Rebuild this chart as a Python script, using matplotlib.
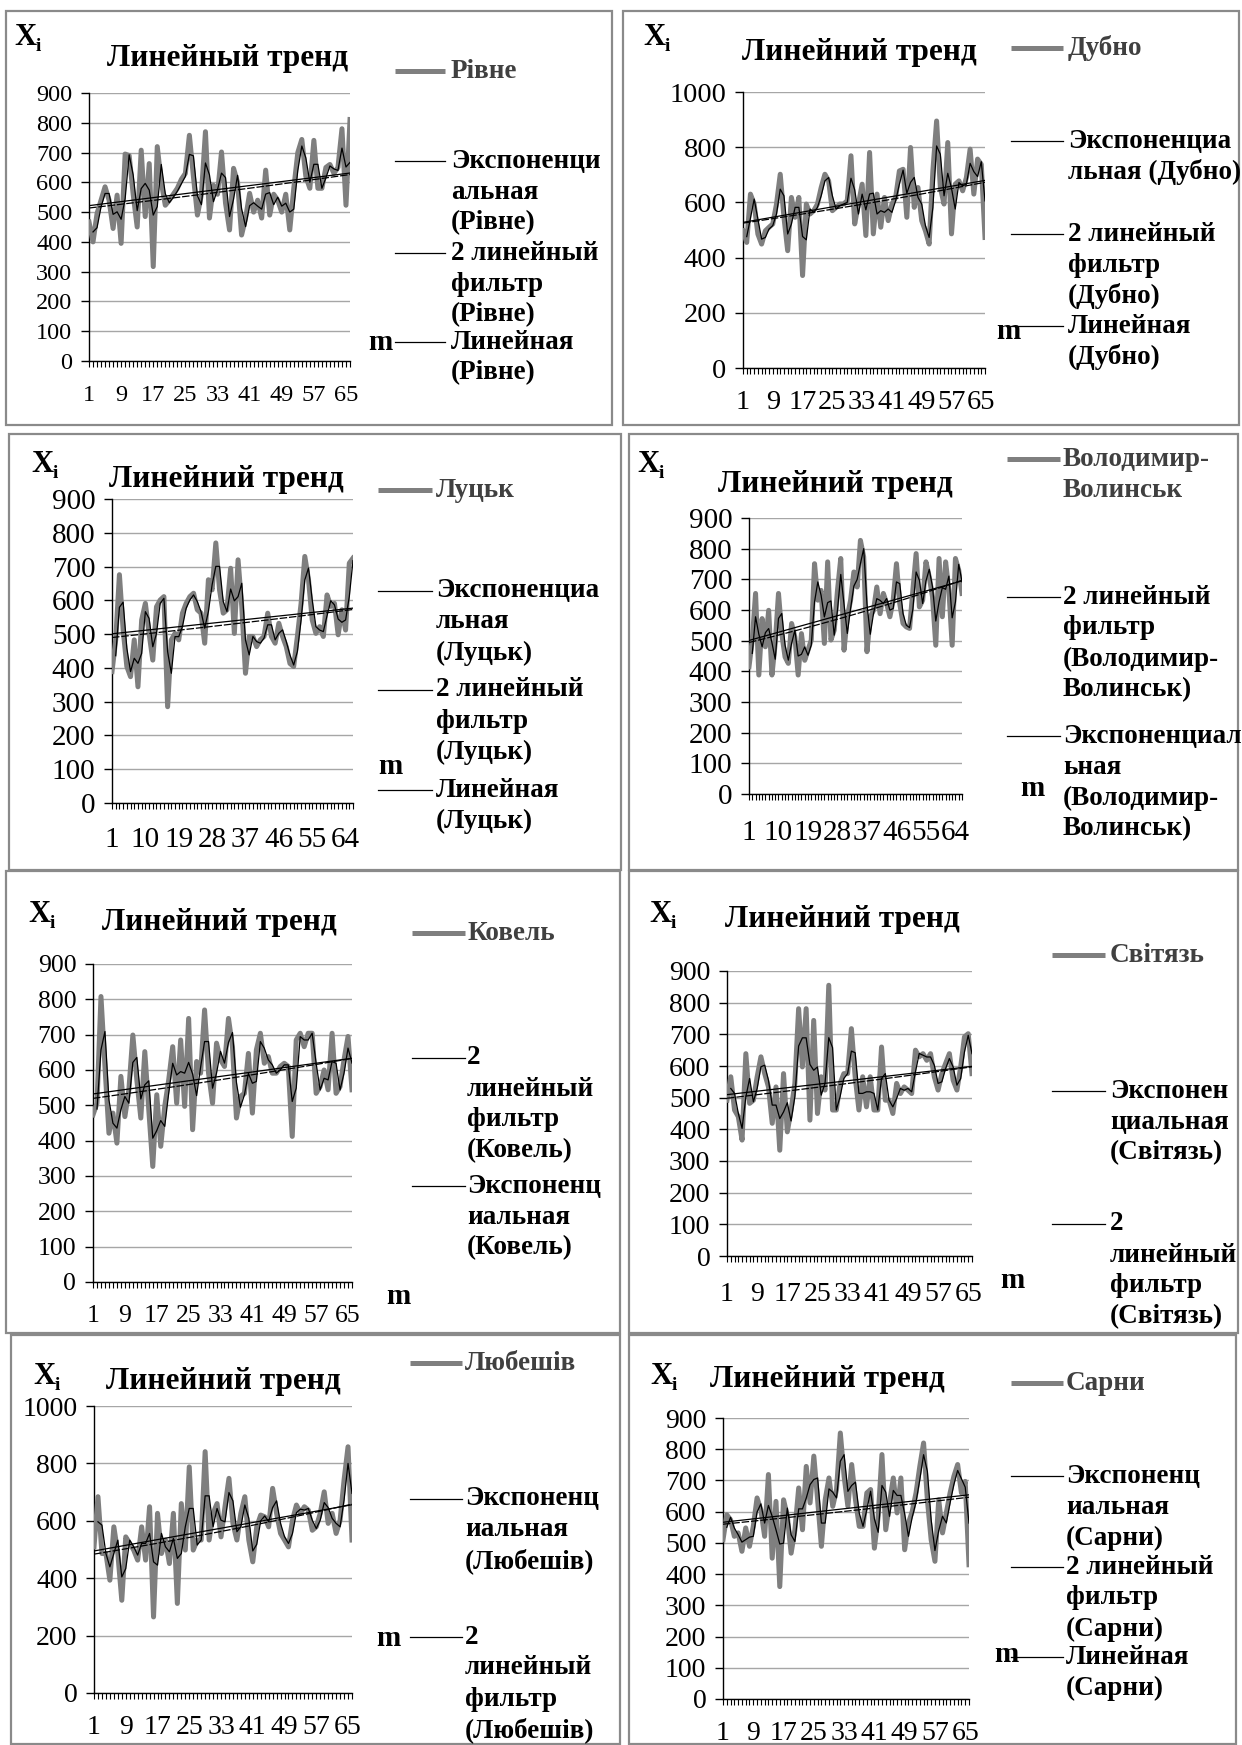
import numpy as np
import pandas as pd
import matplotlib
matplotlib.use("Agg")
import matplotlib.pyplot as plt
from matplotlib.patches import Rectangle
from matplotlib.ticker import FixedLocator, NullFormatter

W, H = 1242, 1745
SERIF = ['Liberation Serif', 'DejaVu Serif']
plt.rcParams['font.family'] = SERIF

# ---------------- data ----------------
RIVNE = [467, 400, 495, 540, 585, 540, 445, 557, 395, 695,
         690, 560, 450, 708, 485, 663, 317, 720, 600, 523,
         540, 560, 580, 610, 630, 758, 620, 490, 560, 770,
         480, 590, 560, 702, 530, 440, 647, 600, 423, 480,
         563, 500, 540, 480, 641, 490, 560, 540, 500, 560,
         440, 580, 700, 744, 620, 580, 741, 580, 580, 650,
         660, 630, 650, 780, 523, 811]
DUBNO = [497, 455, 630, 594, 485, 449, 497, 510, 522, 594,
         702, 546, 425, 618, 546, 618, 335, 594, 558, 570,
         594, 654, 702, 678, 570, 582, 594, 594, 606, 769,
         522, 594, 666, 480, 781, 486, 630, 510, 618, 534,
         594, 618, 714, 720, 546, 799, 582, 654, 534, 497,
         449, 714, 895, 654, 594, 817, 486, 666, 678, 642,
         690, 793, 630, 757, 738, 473]
LUTSK = [389, 483, 676, 513, 404, 374, 483, 344, 542, 591,
         502, 423, 581, 601, 611, 285, 483, 502, 483, 562,
         591, 611, 621, 572, 562, 473, 661, 631, 770, 631,
         562, 572, 695, 502, 720, 581, 384, 493, 493, 463,
         483, 493, 562, 493, 473, 532, 493, 463, 413, 404,
         493, 591, 730, 661, 542, 502, 522, 493, 616, 582,
         591, 498, 572, 512, 710, 725]
VOLODYMYR = [415, 502, 654, 388, 572, 480, 599, 388, 491, 654,
             523, 447, 426, 556, 512, 388, 523, 436, 469, 502,
             751, 632, 664, 491, 757, 502, 534, 664, 768, 469,
             578, 632, 724, 675, 827, 773, 464, 578, 599, 675,
             588, 654, 621, 578, 632, 751, 621, 556, 545, 540,
             664, 784, 610, 632, 757, 708, 643, 485, 768, 578,
             757, 664, 485, 768, 730, 654]
KOVEL = [473, 506, 808, 610, 421, 478, 393, 582, 468, 544,
         699, 572, 464, 652, 487, 327, 530, 384, 497, 572,
         666, 506, 685, 497, 746, 431, 624, 591, 770, 591,
         506, 676, 629, 610, 746, 666, 464, 525, 534, 647,
         478, 657, 704, 619, 638, 591, 591, 610, 619, 610,
         412, 685, 704, 666, 704, 704, 534, 553, 600, 544,
         704, 534, 553, 629, 695, 544]
SVITYAZ = [492, 566, 461, 440, 366, 639, 482, 492, 566, 629,
           576, 534, 419, 534, 334, 576, 392, 461, 545, 781,
           597, 781, 429, 744, 450, 566, 524, 855, 461, 461,
           545, 576, 576, 718, 566, 461, 566, 471, 566, 461,
           461, 660, 492, 492, 450, 545, 513, 534, 524, 513,
           650, 629, 639, 618, 639, 566, 524, 576, 608, 639,
           555, 524, 597, 692, 702, 576]
LYUBESHIV = [509, 684, 486, 486, 393, 579, 486, 323, 544, 521,
             498, 463, 579, 463, 649, 265, 626, 486, 533, 451,
             626, 312, 660, 498, 788, 498, 533, 533, 841, 533,
             626, 660, 544, 649, 748, 591, 533, 626, 684, 533,
             457, 579, 620, 614, 579, 713, 626, 556, 533, 509,
             602, 655, 626, 649, 637, 567, 579, 626, 701, 591,
             626, 556, 602, 742, 858, 533]
SARNY = [510, 590, 574, 521, 532, 473, 548, 489, 553, 644,
         606, 521, 719, 451, 633, 360, 638, 585, 467, 542,
         676, 542, 745, 628, 778, 638, 489, 638, 708, 617,
         671, 852, 713, 617, 751, 638, 553, 553, 660, 671,
         483, 585, 783, 542, 628, 708, 596, 708, 478, 564,
         601, 660, 745, 820, 638, 510, 441, 638, 532, 596,
         660, 713, 751, 660, 697, 430]

STATIONS = ["Рівне", "Дубно", "Луцьк", "Володимир-Волинськ",
            "Ковель", "Світязь", "Любешів", "Сарни"]
TITLES = ["Линейный тренд"] + ["Линейний тренд"] * 7
Y_MAX = [900, 1000, 900, 900, 900, 900, 1000, 900]
Y_STEP = [100, 200, 100, 100, 100, 100, 200, 100]
X_LABEL_STEP = [8, 8, 9, 9, 8, 8, 8, 8]
SERIES = [RIVNE, DUBNO, LUTSK, VOLODYMYR, KOVEL, SVITYAZ, LYUBESHIV, SARNY]

# ---------------- layout (pixels / styles) ----------------
AX_BOX = [(89, 93, 350, 361), (743, 92, 985, 368),
          (112, 499, 353, 803), (749, 518, 962, 794),
          (93, 964, 352, 1282), (727, 971, 972, 1256),
          (94, 1406, 352, 1693), (723, 1418, 969, 1699)]
TICK_FS = [17.5, 20.5, 21, 21, 18.5, 20, 20, 20]
XPAD = [13, 11, 13, 14, 12, 14, 11, 11]
BORDER = [(6, 11, 612, 425), (623, 11, 1239, 425),
          (9, 434, 621, 870), (629, 434, 1238, 870),
          (6, 871, 620, 1333), (629, 871, 1238, 1333),
          (11, 1335, 620, 1744), (629, 1335, 1236, 1744)]
TITLE_POS = [(228, 58), (859, 52), (226, 479), (835, 484),
             (219, 922), (842, 919), (223, 1381), (827, 1380)]
XI_POS = [(14, 37), (643, 37), (31, 464), (637, 464),
          (28, 914), (649, 914), (33, 1377), (650, 1377)]
LEG_X = [(395, 445, 451), (1011, 1063, 1068), (378, 432, 436), (1007, 1060, 1063),
         (412, 465, 467), (1052, 1105, 1110), (410, 462, 465), (1011, 1063, 1066)]
M_POS = [(380, 342), (1008, 331), (390, 766), (1032, 788),
         (398, 1297), (1012, 1280), (388, 1639), (1006, 1655)]
LEGENDS = [
    [("g", 71, ["Рівне"]),
     ("k", 161, ["Экспоненци", "альная", "(Рівне)"]),
     ("k", 253, ["2 линейный", "фильтр", "(Рівне)"]),
     ("k", 342, ["Линейная", "(Рівне)"])],
    [("g", 48, ["Дубно"]),
     ("k", 141, ["Экспоненциа", "льная (Дубно)"]),
     ("k", 234, ["2 линейный", "фильтр", "(Дубно)"]),
     ("k", 326, ["Линейная", "(Дубно)"])],
    [("g", 490, ["Луцьк"]),
     ("k", 591, ["Экспоненциа", "льная", "(Луцьк)"]),
     ("k", 690, ["2 линейный", "фильтр", "(Луцьк)"]),
     ("k", 790, ["Линейная", "(Луцьк)"])],
    [("g", 459, ["Володимир-", "Волинськ"]),
     ("k", 597, ["2 линейный", "фильтр", "(Володимир-", "Волинськ)"]),
     ("k", 736, ["Экспоненциал", "ьная", "(Володимир-", "Волинськ)"])],
    [("g", 933, ["Ковель"]),
     ("k", 1058, ["2", "линейный", "фильтр", "(Ковель)"]),
     ("k", 1186, ["Экспоненц", "иальная", "(Ковель)"])],
    [("g", 955, ["Світязь"]),
     ("k", 1091, ["Экспонен", "циальная", "(Світязь)"]),
     ("k", 1224, ["2", "линейный", "фильтр", "(Світязь)"])],
    [("g", 1363, ["Любешів"]),
     ("k", 1499, ["Экспоненц", "иальная", "(Любешів)"]),
     ("k", 1637, ["2", "линейный", "фильтр", "(Любешів)"])],
    [("g", 1383, ["Сарни"]),
     ("k", 1476, ["Экспоненц", "иальная", "(Сарни)"]),
     ("k", 1567, ["2 линейный", "фильтр", "(Сарни)"]),
     ("k", 1657, ["Линейная", "(Сарни)"])],
]

GRAY = "#7f7f7f"
LINE_SP = 31

fig = plt.figure(figsize=(W / 100, H / 100), dpi=100)
fig.patch.set_facecolor("white")

overlay = fig.add_axes([0, 0, 1, 1], zorder=5)
overlay.set_xlim(0, W)
overlay.set_ylim(H, 0)
overlay.axis("off")
overlay.patch.set_alpha(0)

for p in range(8):
    vals = np.array(SERIES[p], dtype=float)
    n = len(vals)
    x = np.arange(1, n + 1)
    x0, y0, x1, y1 = AX_BOX[p]
    ax = fig.add_axes([x0 / W, 1 - y1 / H, (x1 - x0) / W, (y1 - y0) / H])
    ax.plot(x, vals, color=GRAY, lw=3.6, solid_joinstyle="round", zorder=3)
    ma = pd.Series(vals).rolling(2).mean().to_numpy()
    ax.plot(x, ma, color="black", lw=0.9, zorder=4)
    b, a = np.polyfit(x, vals, 1)
    ax.plot(x, a + b * x, color="black", lw=0.9, zorder=4)
    eb, ea = np.polyfit(x, np.log(vals), 1)
    ax.plot(x, np.exp(ea + eb * x), color="black", lw=0.9, ls=(0, (6, 1.5)), zorder=4)

    ax.set_xlim(1, n)
    ax.set_ylim(0, Y_MAX[p])
    yt = np.arange(0, Y_MAX[p] + 1, Y_STEP[p])
    ax.set_yticks(yt)
    ax.set_yticklabels([str(v) for v in yt])
    ax.yaxis.grid(True, color="#a6a6a6", lw=1.0, zorder=0)
    ax.set_axisbelow(True)
    lab = np.arange(1, n + 1, X_LABEL_STEP[p])
    ax.set_xticks(lab)
    ax.set_xticklabels([str(v) for v in lab])
    ax.xaxis.set_minor_locator(FixedLocator(x))
    ax.xaxis.set_minor_formatter(NullFormatter())
    for s in ("top", "right"):
        ax.spines[s].set_visible(False)
    for s in ("left", "bottom"):
        ax.spines[s].set_linewidth(1.0)
        ax.spines[s].set_color("black")
    ax.tick_params(axis="y", direction="out", length=6, width=1.0,
                   labelsize=TICK_FS[p], pad=6)
    ax.tick_params(axis="x", which="both", direction="out", length=4.5, width=0.8,
                   labelsize=TICK_FS[p], pad=XPAD[p])
    ax.patch.set_alpha(0)

    # frame
    bx0, by0, bx1, by1 = BORDER[p]
    overlay.add_patch(Rectangle((bx0, by0), bx1 - bx0, by1 - by0, fill=False,
                                edgecolor="#8a8a8a", lw=1.6))
    # title and Xi
    tx, ty = TITLE_POS[p]
    overlay.text(tx, ty, TITLES[p], ha="center", va="center", fontsize=22.5,
                 fontweight="bold", color="black")
    xx, xy = XI_POS[p]
    overlay.text(xx, xy, "X", ha="left", va="center", fontsize=22, fontweight="bold")
    overlay.text(xx + 22, xy + 9, "i", ha="left", va="center", fontsize=14, fontweight="bold")
    # legend
    lx0, lx1, ltx = LEG_X[p]
    for kind, ly, lines in LEGENDS[p]:
        if kind == "g":
            overlay.plot([lx0, lx1], [ly, ly], color=GRAY, lw=3.6, solid_capstyle="butt")
            col = "#404040"
        else:
            overlay.plot([lx0, lx1], [ly, ly], color="black", lw=0.9)
            col = "black"
        for k, t in enumerate(lines):
            overlay.text(ltx, ly + k * LINE_SP, t, ha="left", va="center",
                         fontsize=19.5, fontweight="bold", color=col)
    mx, my = M_POS[p]
    overlay.text(mx, my, "m", ha="center", va="center", fontsize=21, fontweight="bold")

fig.savefig("out.png", dpi=100, facecolor="white")
